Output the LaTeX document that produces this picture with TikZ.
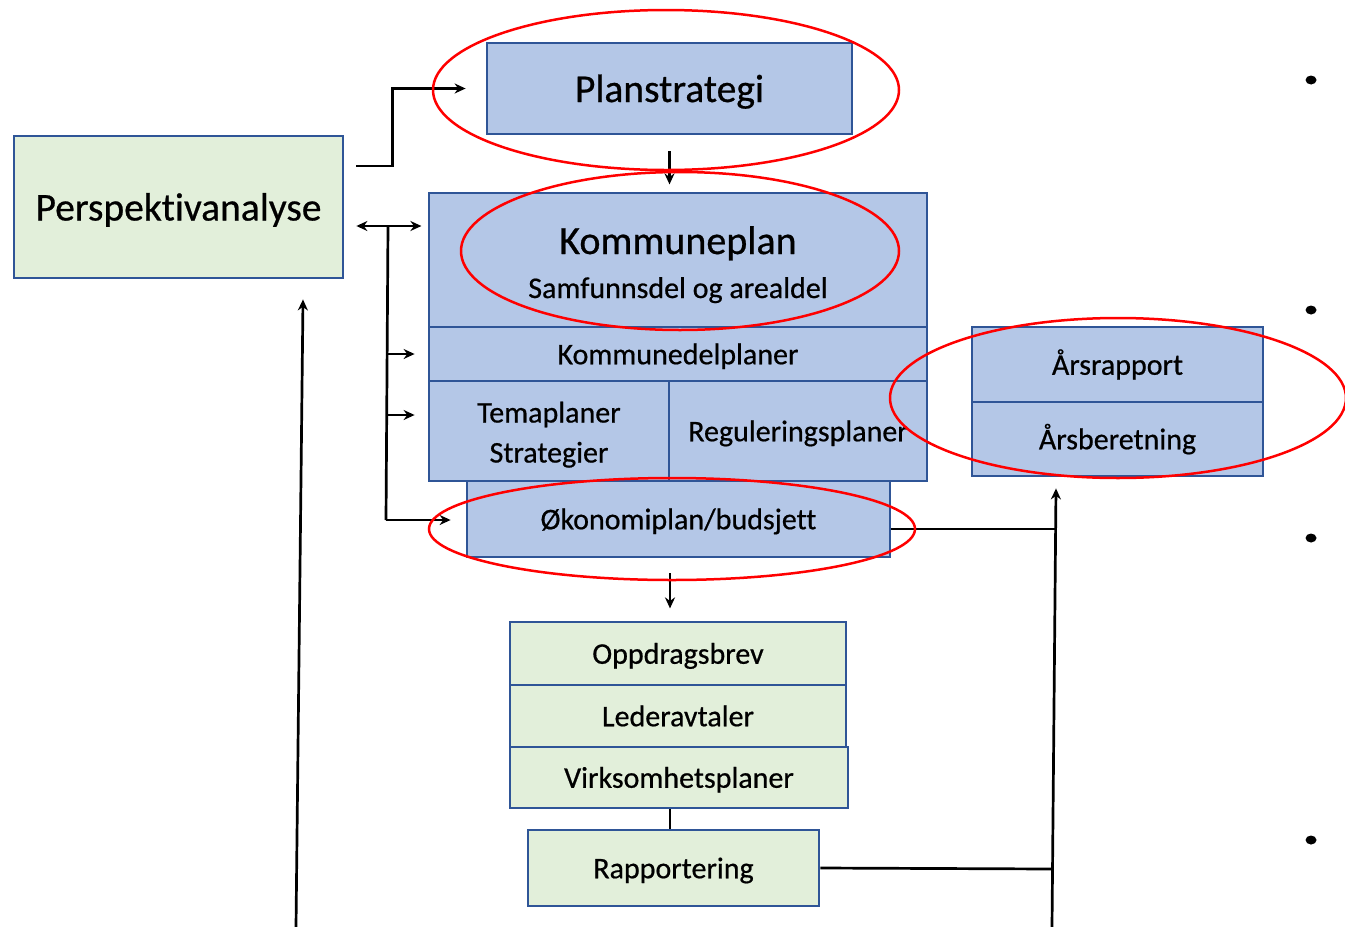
\documentclass[tikz,border=0pt]{standalone}
\usepackage{fontspec}
\setmainfont{Carlito}[Ligatures=NoCommon, FakeBold=0.6]
\usetikzlibrary{arrows.meta,calc,shapes.geometric}
\definecolor{bfill}{HTML}{B4C7E7}
\definecolor{gfill}{HTML}{E2EFDA}
\definecolor{bdraw}{HTML}{2F5597}
\definecolor{ellred}{HTML}{FF0000}
\tikzset{
  box/.style={draw=bdraw, line width=2.8pt, inner sep=0pt, rectangle},
  bluebox/.style={box, fill=bfill},
  greenbox/.style={box, fill=gfill},
  big/.style={font=\fontsize{39.5}{46}\selectfont, text height=27pt, text depth=0pt},
  small/.style={font=\fontsize{30}{40}\selectfont, text height=20.5pt, text depth=0pt},
  txt/.style={inner sep=0pt, text=black},
  con/.style={line width=2.7pt, black},
  arr/.style={con, -{Stealth[length=11pt,width=10pt]}},
  arrtwo/.style={con, {Stealth[length=11pt,width=10pt]}-{Stealth[length=11pt,width=10pt]}},
  redell/.style={draw=ellred, line width=2.5pt},
  bullet/.style={ellipse, fill=black, inner sep=0pt, minimum width=11pt, minimum height=9pt}
}
\begin{document}
\begin{tikzpicture}[x=1pt,y=-1pt]
\useasboundingbox (0,0) rectangle (1345,927);
\fill[white] (0,0) rectangle (1345,927);

% boxes
\node[bluebox, big, minimum width=365, minimum height=91] (ps) at (669.5,88.5) {Planstrategi};
\node[greenbox, big, minimum width=329, minimum height=142] (pa) at (178.5,207) {Perspektivanalyse};
\node[bluebox, minimum width=498, minimum height=134] (kp) at (678,260) {};
\node[txt, anchor=base, font=\fontsize{40}{46}\selectfont] (kpa) at (678,254) {Kommuneplan};
\node[txt, anchor=base, font=\fontsize{30}{40}\selectfont] (kpb) at (678,298) {Samfunnsdel og arealdel};
\node[bluebox, small, minimum width=498, minimum height=54] (kd) at (678,354) {Kommunedelplaner};
\node[bluebox, minimum width=240, minimum height=100] (tp) at (549,431) {};
\node[txt, anchor=base, font=\fontsize{30}{40}\selectfont] (tpa) at (549,422.5) {Temaplaner};
\node[txt, anchor=base, font=\fontsize{30}{40}\selectfont] (tpb) at (549,462.5) {Strategier};
\node[bluebox, small, minimum width=258, minimum height=100] (rg) at (798,431) {Reguleringsplaner};
\node[bluebox, small, minimum width=423, minimum height=76] (ok) at (678.5,519) {Økonomiplan/budsjett};
\node[bluebox, small, minimum width=291, minimum height=75] (ar) at (1117.5,364.5) {Årsrapport};
\node[bluebox, small, minimum width=291, minimum height=74] (ab) at (1117.5,439) {Årsberetning};
\node[greenbox, small, minimum width=336, minimum height=63] (ob) at (678,653.5) {Oppdragsbrev};
\node[greenbox, small, minimum width=336, minimum height=62] (la) at (678,716) {Lederavtaler};
\node[greenbox, small, minimum width=338, minimum height=61] (vp) at (679,777.5) {Virksomhetsplaner};
\node[greenbox, small, minimum width=291, minimum height=76] (rp) at (673.5,868) {Rapportering};

% bullets
\node[bullet] (b1) at (1311,80) {};
\node[bullet] (b2) at (1311,310) {};
\node[bullet] (b3) at (1311,538) {};
\node[bullet] (b4) at (1311,840) {};

% connectors
\draw[arr] ($(pa.east)+(12,-41)$) -- ++(36,0) |- ([xshift=-20pt]ps.west);
\draw[arr] ($(ps.south)+(0,16)$) -- ++(0,33);
\draw[arrtwo] ($(pa.east)+(12,19)$) coordinate (da) -- ++(65,0);
\coordinate (j1) at (388,226);
\coordinate (j1b) at (386,520);
\draw[con] (j1) -- (j1b);
\draw[arr] (kd.west -| j1) -- ([xshift=-13pt]kd.west);
\draw[arr] ($(tp.west)+(-41,-16)$) -- ++(28,0);
\draw[arr] (j1b) -- ([xshift=-15pt,yshift=-1pt]ok.west);
\draw[arr] ($(ok.south)+(-8.5,15)$) -- ++(0,35);
\draw[con] ([xshift=-9pt]vp.south) -- ([xshift=-9pt]vp.south |- rp.north);
\coordinate (bot2) at (1052,927);
\draw[arr] (bot2) -- ($(ab.south)+(-61.5,11)$);
\draw[con] ($(ok.east)+(0,10)$) -- (1055,529);
\draw[con] (rp.east) -- (1052,869);
\coordinate (bot1) at (296,927);
\draw[arr] (bot1) -- ($(pa.south)+(124.5,20)$);

% red ellipses
\draw[redell] (666,90) ellipse [x radius=233, y radius=80];
\draw[redell] (680,251) ellipse [x radius=219, y radius=79];
\draw[redell] (1118,398) ellipse [x radius=228, y radius=80];
\draw[redell] (672,529) ellipse [x radius=243, y radius=51];
\end{tikzpicture}
\end{document}
